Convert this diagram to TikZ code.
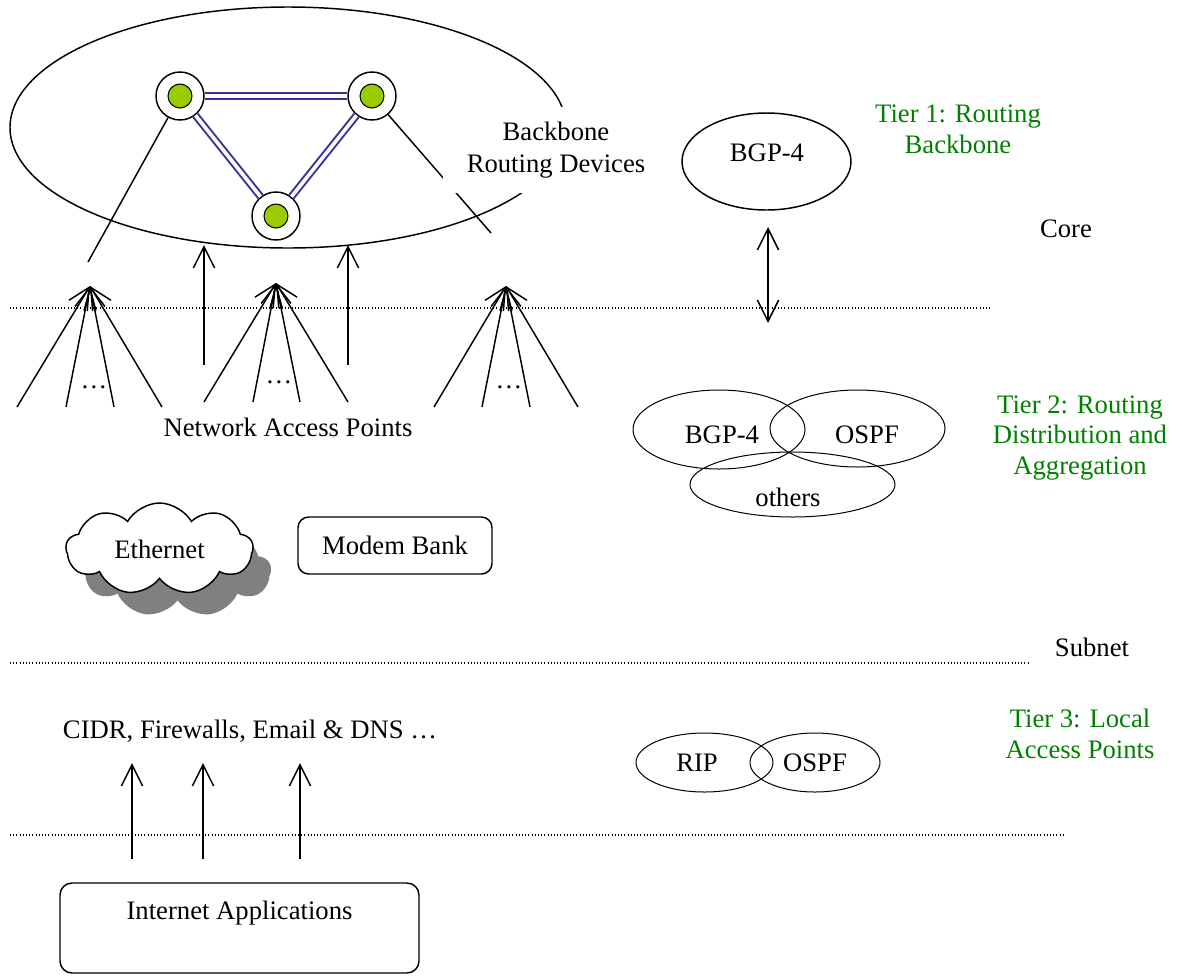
\documentclass[tikz,border=0pt]{standalone}
\usepackage{fontspec}
\setmainfont{Liberation Serif}
\usetikzlibrary{arrows.meta,shapes.geometric,shapes.symbols,shadows}
\definecolor{tiergreen}{RGB}{0,128,0}
\definecolor{linkblue}{RGB}{51,51,153}
\definecolor{routergreen}{RGB}{153,204,0}
\begin{document}
\begin{tikzpicture}[x=0.75pt,y=-0.75pt,
  every node/.style={font=\fontsize{20}{24}\selectfont, inner sep=0pt},
  ln/.style={line width=1.1pt},
  arr/.style={line width=1.1pt,-{Straight Barb[length=16pt,width=16pt]}},
  darr/.style={line width=1.1pt,{Straight Barb[length=16pt,width=16pt]}-{Straight Barb[length=16pt,width=16pt]}},
  sep/.style={line width=0.8pt,dash pattern=on 0.8pt off 1.6pt},
  link/.style={draw=linkblue,line width=1.5pt,double=white,double distance=2.7pt},
  router/.style={circle,draw,line width=1.1pt,fill=white,minimum size=36pt},
  routercore/.style={circle,draw,line width=0.8pt,fill=routergreen,minimum size=18pt},
  proto/.style={ellipse,draw,line width=0.75pt},
  tier/.style={text=tiergreen,align=center,font=\fontsize{20}{23}\selectfont},
  roundbox/.style={draw,line width=1.1pt,rounded corners=8pt}
]
\useasboundingbox (0,0) rectangle (1183,976);

% backbone ellipse
\node[ellipse,draw,line width=1.1pt,minimum width=417pt,minimum height=180.75pt] (bb) at (288,127.5) {};

% routers
\node[router] (r1) at (180,96) {};
\node[router] (r2) at (372,96) {};
\node[router] (r3) at (276,216) {};
\node[routercore] (g1) at (r1) {};
\node[routercore] (g2) at (r2) {};
\node[routercore] (g3) at (r3) {};
\draw[link] (r1) -- (r2);
\draw[link] (r1) -- (r3);
\draw[link] (r2) -- (r3);

% lines from routers
\coordinate (c1) at (88,262);
\coordinate (c2) at (491,233);
\draw[ln] (r1) -- (c1);
\draw[ln] (r2) -- (c2);

% label box over the ellipse
\node[fill=white,minimum width=169.5pt,minimum height=64.5pt,align=center] (bbtext) at (556,150) {Backbone\\Routing Devices};

% arrows into ellipse
\coordinate (v1b) at (204,365); \coordinate (v1t) at (204,245);
\coordinate (v2b) at (348,365); \coordinate (v2t) at (348,245);
\draw[arr] (v1b) -- (v1t);
\draw[arr] (v2b) -- (v2t);

% fans
\coordinate (f1) at (90,286);
\coordinate (f2) at (276,283);
\coordinate (f3) at (506,286);
\foreach \x [count=\i] in {17,66,114,162} {\coordinate (f1b\i) at (\x,407); \draw[arr] (f1b\i) -- (f1);}
\foreach \x [count=\i] in {204,253,300,348} {\coordinate (f2b\i) at (\x,402); \draw[arr] (f2b\i) -- (f2);}
\foreach \x [count=\i] in {434,482,530,578} {\coordinate (f3b\i) at (\x,407); \draw[arr] (f3b\i) -- (f3);}
\node (d1) at (94,387) {…};
\node (d2) at (279,382) {…};
\node (d3) at (509,387) {…};
\node (nap) at (288,427) {Network Access Points};

% separators
\coordinate (s1a) at (10,308); \coordinate (s1b) at (990,308);
\coordinate (s2a) at (10,663); \coordinate (s2b) at (1028,663);
\coordinate (s3a) at (10,835); \coordinate (s3b) at (1065,835);
\draw[sep] (s1a) -- (s1b);
\draw[sep] (s2a) -- (s2b);
\draw[sep] (s3a) -- (s3b);

% tier 1
\node[ellipse,draw,line width=1.1pt,minimum width=126.75pt,minimum height=72.75pt] (bgp1) at (766.5,161.5) {};
\node (bgp1t) at (767,153) {BGP-4};
\coordinate (da) at (768,227); \coordinate (db) at (768,323);
\draw[darr] (da) -- (db);

% tier 2
\node[proto,minimum width=129pt,minimum height=59.25pt] (bgp2) at (719,429.5) {};
\node[proto,minimum width=131.25pt,minimum height=57.75pt] (ospf2) at (857.5,428.5) {};
\node[proto,minimum width=153.75pt,minimum height=48.75pt] (oth) at (792.5,484.5) {};
\node (bgp2t) at (722,435) {BGP-4};
\node (ospf2t) at (867,435) {OSPF};
\node (otht) at (788,497) {others};

% tier 3
\node[proto,minimum width=102.75pt,minimum height=44.25pt] (rip) at (704.5,762.5) {};
\node[proto,minimum width=97.5pt,minimum height=44.25pt] (ospf3) at (815,762.5) {};
\node (ript) at (697,763) {RIP};
\node (ospf3t) at (815,763) {OSPF};

% right labels
\node[tier] (t1) at (958,129) {Tier 1: Routing\\Backbone};
\node (core) at (1066,229) {Core};
\node[tier] (t2) at (1080,438) {Tier 2: Routing\\Distribution and\\Aggregation};
\node (subnet) at (1092,647) {Subnet};
\node[tier] (t3) at (1080,734) {Tier 3: Local\\Access Points};

% ethernet and modem bank
\node[cloud,draw,fill=white,line width=1.1pt,cloud puffs=9,cloud puff arc=120,aspect=2,
  minimum width=140.25pt,minimum height=69pt,
  drop shadow={shadow xshift=13.5pt,shadow yshift=-16.5pt,fill=black!50,opacity=1}] (eth) at (159.5,549) {Ethernet};
\node[roundbox,minimum width=145.5pt,minimum height=42.75pt] (modem) at (395,545.5) {Modem Bank};

% tier 3 left
\node (cidr) at (250,731) {CIDR, Firewalls, Email \& DNS …};
\node[roundbox,minimum width=269.25pt,minimum height=67.5pt,rounded corners=9pt] (app) at (239.5,928) {};
\node (appt) at (239.5,913) {Internet Applications};
\foreach \x [count=\i] in {132,203,300} {\coordinate (ab\i) at (\x,859); \coordinate (at\i) at (\x,763); \draw[arr] (ab\i) -- (at\i);}
\end{tikzpicture}
\end{document}
